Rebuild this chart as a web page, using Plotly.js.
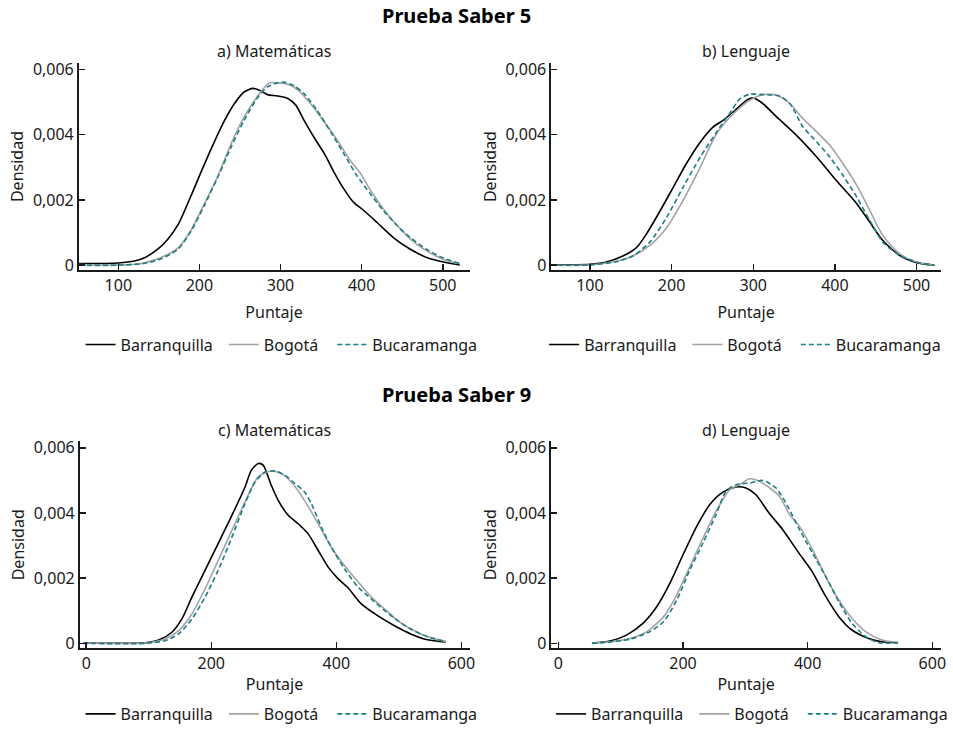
<!DOCTYPE html>
<html>
<head>
<meta charset="utf-8">
<script src="https://cdn.plot.ly/plotly-3.0.1.min.js"></script>
<style>html,body{margin:0;padding:0;background:#fff;}#chart{width:953px;height:731px;}</style>
</head>
<body>
<div id="chart"></div>
<script>
// Series names
const seriesNames = ["Barranquilla", "Bogotá", "Bucaramanga"];
const panelTitles = ["a) Matemáticas", "b) Lenguaje", "c) Matemáticas", "d) Lenguaje"];
const groupTitles = ["Prueba Saber 5", "Prueba Saber 9"];
const yTickVals = [0, 0.002, 0.004, 0.006];
const yTickText = ["0", "0,002", "0,004", "0,006"];
const xTickVals5 = [100, 200, 300, 400, 500];
const xTickVals9 = [0, 200, 400, 600];

// a) Saber 5 Matemáticas
const aBarrX = [51,100,120,133,149,161,174,190,201,215,231,243,255,266,274,284,296,309,319,329,341,354,366,378,390,403,419,439,460,480,501,521];
const aBarrY = [0.00005,0.00007,0.00013,0.00024,0.0005,0.0008,0.00126,0.00215,0.0028,0.0036,0.00444,0.00495,0.00531,0.00542,0.00536,0.00523,0.00519,0.00511,0.0049,0.00444,0.00393,0.00342,0.00285,0.00234,0.00193,0.00167,0.00131,0.00085,0.00049,0.00024,0.0001,0.00001];
const aBogX = [51,100,120,133,153,174,190,206,223,239,255,271,286,296,309,321,337,354,370,386,399,411,427,444,460,480,501,521];
const aBogY = [0.00002,0.00001,0.00003,0.00008,0.00024,0.00054,0.0011,0.00188,0.00275,0.00372,0.00454,0.00516,0.00559,0.00559,0.00555,0.00538,0.00495,0.00439,0.00383,0.00321,0.0028,0.00229,0.00172,0.00121,0.0008,0.00044,0.00018,0.00005];
const aBucX = [51,100,133,153,174,190,206,223,239,255,271,284,296,305,317,329,345,362,378,394,411,427,444,460,480,501,521];
const aBucY = [0,0,0.00006,0.0002,0.0005,0.00106,0.00183,0.00272,0.00362,0.00444,0.00511,0.00547,0.00559,0.00561,0.00549,0.00526,0.00475,0.00408,0.00342,0.00275,0.00218,0.00167,0.00121,0.00085,0.00049,0.00022,0.00005];

// b) Saber 5 Lenguaje
const bBarrX = [51,100,120,141,157,169,186,202,218,235,251,263,280,292,300,312,329,353,378,402,427,443,459,480,500,522];
const bBarrY = [0.00001,0.00003,0.0001,0.00029,0.00054,0.00095,0.00167,0.00239,0.00311,0.00377,0.00424,0.00444,0.0048,0.00506,0.00513,0.00495,0.00454,0.00398,0.00331,0.00259,0.00188,0.00131,0.00075,0.00029,0.00008,0];
const bBogX = [51,100,133,153,173,194,214,235,255,276,296,312,329,345,361,378,394,410,427,443,459,480,500,522];
const bBogY = [0,0.00001,0.00013,0.00029,0.0006,0.00116,0.00198,0.003,0.00403,0.00465,0.00506,0.00523,0.00521,0.00495,0.00449,0.00408,0.00367,0.00311,0.00244,0.00167,0.0009,0.00034,0.0001,0];
const bBucX = [51,100,133,153,173,194,214,235,255,271,284,296,312,333,345,361,378,394,410,427,443,459,480,500,522];
const bBucY = [0,0.00001,0.00011,0.00029,0.0007,0.00147,0.00239,0.00331,0.00408,0.00465,0.00511,0.00524,0.00523,0.00518,0.00495,0.00424,0.00377,0.00331,0.00275,0.00208,0.00136,0.0007,0.00029,0.0001,0];

// c) Saber 9 Matemáticas
const cBarrX = [-5,95,116,137,153,169,190,211,233,254,264,275,283,296,307,323,339,355,371,387,403,418,440,466,493,519,546,575];
const cBarrY = [0.00001,0.00002,0.0001,0.00034,0.00075,0.00142,0.00224,0.00306,0.00393,0.0048,0.00531,0.00552,0.00547,0.00485,0.00439,0.00393,0.00367,0.00336,0.00285,0.00234,0.00198,0.00172,0.00121,0.00085,0.00054,0.00029,0.00011,0.00004];
const cBogX = [-5,95,126,148,169,190,211,233,254,275,296,312,328,349,371,392,413,435,456,477,498,519,546,575];
const cBogY = [0.00001,0.00001,0.00013,0.00039,0.0009,0.00167,0.00254,0.00347,0.00434,0.00511,0.00529,0.00521,0.00495,0.00439,0.00367,0.00295,0.00239,0.00188,0.00142,0.00106,0.0007,0.00044,0.0002,0.00006];
const cBucX = [-5,95,126,148,169,190,211,233,254,270,286,302,318,334,349,360,376,392,413,435,456,477,498,519,546,575];
const cBucY = [0,0,0.00008,0.00029,0.00075,0.00142,0.00224,0.00326,0.00429,0.00495,0.00526,0.00529,0.00516,0.0049,0.00465,0.00429,0.00357,0.00295,0.00229,0.00172,0.00136,0.00101,0.0007,0.00044,0.0002,0.00005];

// d) Saber 9 Lenguaje
const dBarrX = [54,83,110,136,158,179,200,222,243,264,285,301,317,338,360,386,407,429,450,471,498,519,545];
const dBarrY = [0.00001,0.00007,0.00026,0.00062,0.00113,0.00185,0.00272,0.00359,0.00426,0.00464,0.0048,0.00477,0.00456,0.004,0.00349,0.00277,0.00221,0.00144,0.00082,0.00041,0.00015,0.00005,0.00002];
const dBogX = [54,83,115,142,169,190,211,232,253,275,291,307,323,339,355,371,387,408,429,450,471,493,519,545];
const dBogY = [0.00001,0.00005,0.00015,0.00036,0.00082,0.00149,0.00236,0.00323,0.00405,0.00472,0.00487,0.00505,0.00497,0.00477,0.00451,0.00395,0.00359,0.00287,0.00205,0.00133,0.00077,0.00036,0.0001,0.00003];
const dBucX = [54,83,115,147,169,190,211,232,253,269,285,307,328,349,365,387,408,429,450,471,493,514,545];
const dBucY = [0,0.00004,0.00013,0.00036,0.00067,0.00133,0.00226,0.00308,0.00395,0.00467,0.00487,0.00492,0.005,0.00477,0.00431,0.00349,0.00277,0.00205,0.00128,0.00062,0.00021,0.00002,0.00002];

const panels = [
  {xs:[aBarrX,aBogX,aBucX], ys:[aBarrY,aBogY,aBucY]},
  {xs:[bBarrX,bBogX,bBucX], ys:[bBarrY,bBogY,bBucY]},
  {xs:[cBarrX,cBogX,cBucX], ys:[cBarrY,cBogY,cBucY]},
  {xs:[dBarrX,dBogX,dBucX], ys:[dBarrY,dBogY,dBucY]}
];

const W = 953, H = 731;
const FONT = "Noto Sans, Open Sans, sans-serif";
const TXT = "#1a1a1a";
const styles = [
  {color:"#000000", width:1.6, dash:"solid"},
  {color:"#a3a3a3", width:1.6, dash:"solid"},
  {color:"#1d7d84", width:1.6, dash:"5px,3px"}
];

// pixel geometry of plot areas and legend entries
const geo = [
  {x0:79, x1:472, y0:63.4, y1:272, xr:[51,533], xt:xTickVals5, legY:347, legX:[87,231,340], titleY:51, xtStand:12},
  {x0:554, x1:946, y0:63.4, y1:272, xr:[52.4,530], xt:xTickVals5, legY:347, legX:[553,697,806], titleY:51, xtStand:12},
  {x0:80, x1:472, y0:444.4, y1:652.7, xr:[-10.6,613], xt:xTickVals9, legY:719, legX:[87,231,340], titleY:433, xtStand:6},
  {x0:554, x1:946, y0:444.4, y1:652.7, xr:[-11.7,614], xt:xTickVals9, legY:719, legX:[560,704,813], titleY:433, xtStand:6}
];

const traces = [];
panels.forEach((p, i) => {
  const axN = i === 0 ? "" : String(i + 1);
  for (let s = 0; s < 3; s++) {
    const k = i * 3 + s + 1;
    traces.push({
      type: "scatter", mode: "lines",
      x: p.xs[s], y: p.ys[s],
      name: seriesNames[s],
      xaxis: "x" + axN, yaxis: "y" + axN,
      legend: k === 1 ? "legend" : "legend" + k,
      line: {color: styles[s].color, width: styles[s].width, dash: styles[s].dash, shape: "spline", smoothing: 0.7},
      hoverinfo: "skip"
    });
  }
});

const layout = {
  width: W, height: H,
  margin: {l:0, r:0, t:0, b:0, pad:0},
  paper_bgcolor: "#ffffff", plot_bgcolor: "#ffffff",
  font: {family: FONT, size: 16, color: TXT},
  showlegend: true,
  annotations: [],
  hovermode: false
};

geo.forEach((g, i) => {
  const axN = i === 0 ? "" : String(i + 1);
  layout["xaxis" + axN] = {
    domain: [g.x0 / W, g.x1 / W], range: g.xr, anchor: "y" + axN,
    showline: true, linecolor: TXT, linewidth: 1.6,
    ticks: "inside", ticklen: 6, tickwidth: 1.5, tickcolor: TXT,
    tickvals: g.xt, showgrid: false, zeroline: false,
    tickfont: {size: 16, family: FONT, color: TXT},
    title: {text: "Puntaje", font: {size: 16, family: FONT, color: TXT}, standoff: g.xtStand},
    automargin: false, fixedrange: true
  };
  layout["yaxis" + axN] = {
    domain: [1 - g.y1 / H, 1 - g.y0 / H], range: [-0.00015, 0.0062], anchor: "x" + axN,
    showline: true, linecolor: TXT, linewidth: 1.6,
    ticks: "inside", ticklen: 6, tickwidth: 1.5, tickcolor: TXT,
    tickvals: yTickVals, ticktext: yTickText, showgrid: false, zeroline: false,
    tickfont: {size: 16, family: FONT, color: TXT},
    title: {text: "Densidad", font: {size: 16, family: FONT, color: TXT}, standoff: 5},
    automargin: false, fixedrange: true
  };
  for (let s = 0; s < 3; s++) {
    const k = i * 3 + s + 1;
    layout[k === 1 ? "legend" : "legend" + k] = {
      orientation: "h", xref: "paper", yref: "paper",
      x: (g.legX[s] - 6) / W, xanchor: "left",
      y: 1 - g.legY / H, yanchor: "middle",
      font: {size: 16, family: FONT, color: TXT},
      bgcolor: "rgba(0,0,0,0)", borderwidth: 0, itemwidth: 30
    };
  }
  layout.annotations.push({
    text: panelTitles[i], xref: "paper", yref: "paper",
    x: ((g.x0 + g.x1) / 2) / W, y: 1 - g.titleY / H,
    xanchor: "center", yanchor: "middle", showarrow: false,
    font: {size: 16, family: FONT, color: TXT}
  });
});

layout.annotations.push({
  text: "<b>" + groupTitles[0] + "</b>", xref: "paper", yref: "paper",
  x: 458.5 / W, y: 1 - 16 / H, xanchor: "center", yanchor: "middle", showarrow: false,
  font: {size: 20, family: FONT, color: "#000"}
});
layout.annotations.push({
  text: "<b>" + groupTitles[1] + "</b>", xref: "paper", yref: "paper",
  x: 459 / W, y: 1 - 397 / H, xanchor: "center", yanchor: "middle", showarrow: false,
  font: {size: 20, family: FONT, color: "#000"}
});

Plotly.newPlot("chart", traces, layout, {displayModeBar: false, staticPlot: true});
</script>
</body>
</html>
